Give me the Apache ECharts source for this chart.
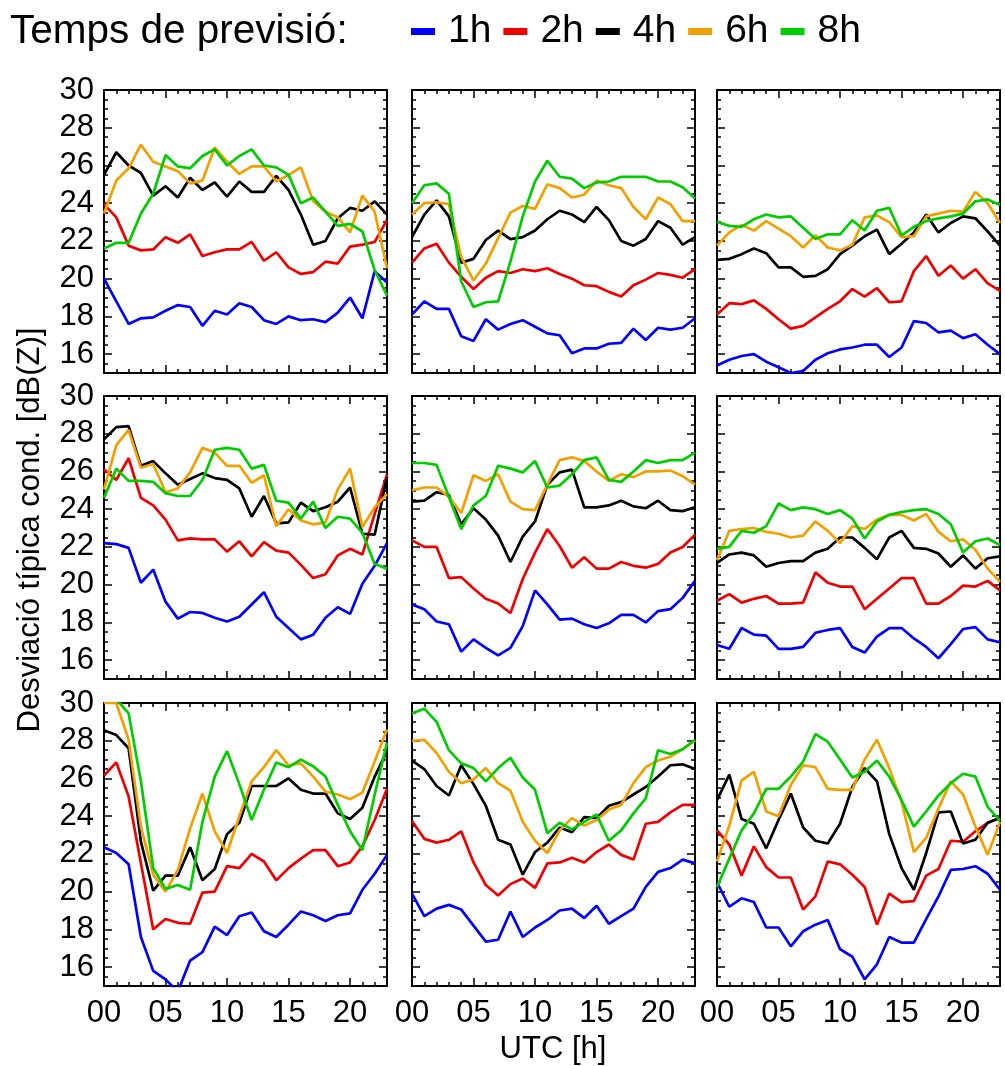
<!DOCTYPE html>
<html>
<head>
<meta charset="utf-8">
<script src="https://cdn.jsdelivr.net/npm/echarts@6/dist/echarts.min.js"></script>
<style>html,body{margin:0;padding:0;background:#fff}#c{width:1005px;height:1066px}</style>
</head>
<body>
<div id="c"></div>
<script>
// ---- categories / ticks ----
const hours = [0,1,2,3,4,5,6,7,8,9,10,11,12,13,14,15,16,17,18,19,20,21,22,23];
const xTickValues = [0,5,10,15,20];
const xTickLabels = ['00','05','10','15','20'];
const yTickValues = [16,18,20,22,24,26,28,30];
const yTickLabels = ['16','18','20','22','24','26','28','30'];
const leadTimes = ['1h','2h','4h','6h','8h'];
const leadColors = ['#0000ff','#ee0000','#000000','#f2a000','#00cc00'];
const legendTitle = 'Temps de previsió:';
const yTitle = 'Desviació típica cond. [dB(Z)]';
const xTitle = 'UTC [h]';

// ---- row 1 ----
const r1c1_1h = [20.0,18.8,17.6,17.9,17.95,18.3,18.6,18.5,17.5,18.3,18.1,18.7,18.5,17.8,17.6,18.0,17.8,17.85,17.7,18.2,19.0,17.9,20.4,19.8];
const r1c1_2h = [23.95,23.25,21.75,21.5,21.55,22.2,21.9,22.35,21.2,21.4,21.55,21.55,21.95,20.95,21.4,20.6,20.25,20.35,20.9,20.8,21.7,21.8,21.95,23.1];
const r1c1_4h = [25.5,26.7,26.0,25.6,24.4,24.9,24.3,25.35,24.7,25.1,24.35,25.15,24.6,24.6,25.45,24.7,23.4,21.8,22.0,23.2,23.75,23.6,24.1,23.4];
const r1c1_6h = [23.45,25.2,25.85,27.1,26.2,25.95,25.7,25.05,25.2,26.95,26.2,25.55,25.95,25.95,25.15,25.5,25.9,24.1,23.55,23.25,22.45,24.4,23.55,20.55];
const r1c1_8h = [21.6,21.9,21.9,23.45,24.5,26.55,25.95,25.85,26.5,26.85,26.0,26.5,26.85,26.0,25.9,25.5,24.0,24.3,23.55,22.8,22.9,22.5,20.45,19.1];

const r1c2_1h = [18.1,18.8,18.4,18.4,16.95,16.7,17.85,17.3,17.6,17.8,17.45,17.1,17.0,16.05,16.3,16.3,16.55,16.6,17.35,16.75,17.4,17.3,17.4,17.9];
const r1c2_2h = [20.85,21.6,21.85,20.85,20.1,19.45,20.05,20.4,20.3,20.5,20.4,20.55,20.25,20.0,19.65,19.6,19.3,19.05,19.65,19.95,20.3,20.2,20.05,20.5];
const r1c2_4h = [22.2,23.4,24.15,23.3,20.85,21.05,22.05,22.55,22.1,22.2,22.55,23.15,23.6,23.4,23.0,23.8,23.1,22.0,21.75,22.1,23.05,22.7,21.8,22.2];
const r1c2_6h = [23.4,24.0,24.05,23.95,21.15,19.9,20.8,22.15,23.5,23.85,23.7,25.0,24.8,24.3,24.45,25.2,24.95,24.8,23.8,23.15,24.3,23.95,23.05,23.05];
const r1c2_8h = [24.0,24.95,25.05,24.5,19.85,18.5,18.75,18.8,20.9,23.3,25.15,26.25,25.4,25.3,24.8,25.1,25.15,25.4,25.4,25.4,25.15,25.15,24.85,24.25];

const r1c3_1h = [15.4,15.7,15.9,16.0,15.6,15.3,15.0,15.1,15.7,16.05,16.25,16.35,16.5,16.5,15.85,16.35,17.75,17.65,17.15,17.25,16.85,17.05,16.5,16.0];
const r1c3_2h = [18.1,18.7,18.65,18.85,18.4,17.85,17.35,17.5,17.95,18.4,18.8,19.45,19.05,19.5,18.75,18.8,20.4,21.2,20.15,20.7,20.0,20.5,19.75,19.35];
const r1c3_4h = [21.0,21.05,21.3,21.6,21.35,20.6,20.6,20.1,20.15,20.5,21.3,21.75,22.25,22.6,21.3,21.85,22.45,23.4,22.45,22.95,23.3,23.2,22.5,21.75];
const r1c3_6h = [21.75,22.45,22.85,22.55,23.05,22.65,22.25,21.65,22.3,21.65,21.5,21.8,23.25,23.35,23.0,22.2,22.25,23.3,23.45,23.6,23.55,24.6,24.0,22.95];
const r1c3_8h = [23.0,22.8,22.75,23.15,23.4,23.25,23.3,22.7,22.1,22.35,22.35,23.1,22.55,23.6,23.75,22.3,22.75,23.05,23.2,23.3,23.45,24.1,24.2,23.9];

// ---- row 2 ----
const r2c1_1h = [22.2,22.15,21.95,20.1,20.8,19.1,18.2,18.55,18.5,18.25,18.05,18.3,18.95,19.6,18.3,17.7,17.1,17.35,18.25,18.8,18.45,20.05,21.0,22.2];
const r2c1_2h = [26.1,25.55,26.7,24.6,24.2,23.45,22.35,22.45,22.4,22.4,21.75,22.3,21.5,22.25,21.8,21.7,21.05,20.35,20.55,21.55,21.9,21.6,23.75,25.85];
const r2c1_4h = [27.7,28.35,28.4,26.3,26.55,25.9,25.3,25.6,25.9,25.65,25.55,25.1,23.6,24.7,23.25,23.3,24.35,23.9,24.1,24.4,25.15,22.7,22.65,25.7];
const r2c1_6h = [25.05,27.4,28.2,26.2,26.4,24.9,25.1,25.95,27.25,27.0,26.3,26.3,25.4,25.8,23.1,24.0,23.4,23.2,23.3,25.05,26.15,23.05,24.1,24.8];
const r2c1_8h = [24.6,26.15,25.5,25.5,25.45,24.85,24.7,24.7,25.55,27.15,27.25,27.15,26.15,26.35,24.45,24.35,23.5,24.4,23.0,23.6,23.5,22.75,21.1,20.85];

const r2c2_1h = [18.95,18.7,18.05,17.9,16.45,17.1,16.65,16.25,16.65,17.8,19.7,18.95,18.15,18.2,17.9,17.7,17.95,18.4,18.4,18.0,18.6,18.7,19.3,20.2];
const r2c2_2h = [22.35,22.0,22.0,20.35,20.4,19.8,19.25,19.0,18.5,20.3,21.7,22.95,22.05,20.9,21.45,20.85,20.85,21.2,21.0,20.9,21.1,21.7,22.0,22.65];
const r2c2_4h = [24.4,24.45,24.9,24.75,23.2,24.05,23.45,22.6,21.2,22.55,23.35,25.3,25.95,26.1,24.1,24.1,24.2,24.45,24.15,24.05,24.45,23.95,23.9,24.1];
const r2c2_6h = [25.0,25.15,25.15,24.65,23.8,25.8,25.5,25.85,24.4,24.0,23.95,25.3,26.6,26.75,26.55,26.0,25.5,25.85,25.7,26.0,26.0,26.05,25.75,25.3];
const r2c2_8h = [26.45,26.45,26.35,24.65,22.95,24.2,24.7,26.3,26.15,25.95,26.55,25.15,25.25,25.85,26.6,26.75,25.55,25.45,26.0,26.6,26.45,26.6,26.6,27.0];

const r2c3_1h = [16.8,16.6,17.7,17.35,17.3,16.6,16.6,16.7,17.45,17.6,17.7,16.7,16.4,17.25,17.7,17.7,17.15,16.7,16.1,16.85,17.65,17.75,17.1,16.95];
const r2c3_2h = [19.15,19.5,19.05,19.25,19.4,19.0,19.0,19.05,20.65,20.1,19.9,19.9,18.7,19.25,19.8,20.35,20.35,19.0,19.0,19.4,19.95,19.9,20.2,19.7];
const r2c3_4h = [21.15,21.6,21.7,21.55,20.95,21.15,21.25,21.25,21.7,21.9,22.5,22.5,21.95,21.35,22.5,22.85,21.95,21.9,21.65,20.95,21.55,20.85,21.4,21.5];
const r2c3_6h = [21.3,22.85,22.95,23.0,22.8,22.7,22.5,22.6,23.35,22.85,22.2,23.1,22.95,23.45,23.7,23.7,23.4,23.75,22.8,22.3,22.4,21.85,20.85,20.15];
const r2c3_8h = [21.9,22.0,22.85,22.75,23.1,24.3,23.95,24.1,24.0,23.75,23.95,23.5,22.45,23.35,23.7,23.85,23.95,24.0,23.75,23.2,21.7,22.3,22.45,22.1];

// ---- row 3 ----
const r3c1_1h = [22.35,22.05,21.45,17.6,15.8,15.35,14.7,16.35,16.8,18.15,17.7,18.7,18.9,17.9,17.6,18.25,18.95,18.75,18.45,18.75,18.85,20.1,20.95,21.95];
const r3c1_2h = [26.15,26.85,25.05,21.5,18.0,18.55,18.35,18.3,19.95,20.0,21.35,21.25,22.0,21.6,20.6,21.25,21.75,22.2,22.2,21.35,21.55,22.4,23.8,25.45];
const r3c1_4h = [28.55,28.3,27.6,22.65,20.05,20.85,20.85,22.35,20.6,21.2,23.05,23.65,25.6,25.6,25.6,26.0,25.4,25.2,25.2,24.15,23.85,24.45,26.1,27.45];
const r3c1_6h = [30.0,30.0,28.05,23.45,20.9,20.0,21.15,23.35,25.2,23.2,22.05,24.0,25.85,26.6,27.5,26.7,26.8,26.1,25.3,25.15,24.9,25.25,26.9,28.6];
const r3c1_8h = [30.2,30.2,29.45,25.85,21.25,20.15,20.35,20.1,23.7,26.1,27.45,25.7,23.8,25.4,26.85,26.6,27.0,26.65,26.1,24.6,23.2,22.2,25.15,27.9];

const r3c2_1h = [19.9,18.7,19.1,19.3,19.05,18.2,17.35,17.45,18.95,17.6,18.1,18.5,19.0,19.1,18.6,19.25,18.3,18.7,19.1,20.25,21.05,21.25,21.7,21.5];
const r3c2_2h = [23.75,22.8,22.6,22.75,23.2,21.55,20.35,19.8,20.4,20.7,20.2,21.5,21.55,21.8,21.55,22.1,22.5,21.95,21.7,23.6,23.7,24.2,24.6,24.6];
const r3c2_4h = [26.95,26.5,25.6,25.1,26.7,25.7,24.55,22.75,22.5,20.9,22.1,22.6,23.4,23.15,23.95,23.9,24.55,24.75,25.15,25.55,26.1,26.7,26.75,26.5];
const r3c2_6h = [28.0,28.05,27.35,26.35,25.75,25.95,26.55,25.75,25.35,23.7,22.7,22.05,23.25,23.9,23.5,23.8,24.35,24.6,25.75,26.6,26.95,27.15,27.55,28.0];
const r3c2_8h = [29.45,29.7,29.0,27.5,26.8,26.55,25.85,26.55,27.1,26.05,25.4,23.1,23.65,23.3,23.7,24.1,22.7,23.25,24.15,24.95,27.5,27.3,27.55,28.05];

const r3c3_1h = [20.5,19.2,19.65,19.45,18.1,18.1,17.1,17.9,18.25,18.5,16.95,16.55,15.35,16.15,17.6,17.3,17.3,18.55,19.75,21.15,21.2,21.35,20.95,20.1];
const r3c3_2h = [23.25,22.5,20.85,22.4,21.3,20.75,20.75,19.05,19.75,21.6,21.45,20.9,20.25,18.25,19.9,19.45,19.5,20.85,21.2,22.7,22.65,23.2,23.65,23.9];
const r3c3_4h = [24.85,26.2,23.85,23.6,22.3,23.8,25.2,23.4,22.7,22.55,23.6,25.55,26.55,25.85,23.05,21.25,20.1,22.05,24.2,24.25,22.55,22.75,23.65,23.9];
const r3c3_6h = [21.6,23.5,25.9,26.35,24.25,24.0,25.65,26.7,26.6,25.45,25.4,25.4,27.0,28.05,26.55,24.75,22.1,22.85,24.4,25.85,25.15,23.45,21.95,23.7];
const r3c3_8h = [20.25,21.75,23.25,24.15,25.45,25.45,26.1,26.9,28.35,27.95,27.0,26.05,26.35,26.95,26.1,24.85,23.45,24.25,25.1,25.75,26.25,26.1,24.5,23.75];

const panels = [
  [r1c1_1h, r1c1_2h, r1c1_4h, r1c1_6h, r1c1_8h],
  [r1c2_1h, r1c2_2h, r1c2_4h, r1c2_6h, r1c2_8h],
  [r1c3_1h, r1c3_2h, r1c3_4h, r1c3_6h, r1c3_8h],
  [r2c1_1h, r2c1_2h, r2c1_4h, r2c1_6h, r2c1_8h],
  [r2c2_1h, r2c2_2h, r2c2_4h, r2c2_6h, r2c2_8h],
  [r2c3_1h, r2c3_2h, r2c3_4h, r2c3_6h, r2c3_8h],
  [r3c1_1h, r3c1_2h, r3c1_4h, r3c1_6h, r3c1_8h],
  [r3c2_1h, r3c2_2h, r3c2_4h, r3c2_6h, r3c2_8h],
  [r3c3_1h, r3c3_2h, r3c3_4h, r3c3_6h, r3c3_8h]
];

// ---- layout ----
const FONT = '"Liberation Sans", Arial, Helvetica, sans-serif';
const panelLefts = [104, 412, 717];
const panelTops = [90, 396, 703];
const PW = 283, PH = 283;
const Y_MIN = 15, Y_MAX = 30, X_MIN = 0, X_MAX = 23;
const yMinorTicks = [];
for (let v = Y_MIN; v <= Y_MAX + 1e-9; v += 0.5) yMinorTicks.push(v);

const grid = [], xAxis = [], yAxis = [], series = [];
const lineOn = {show: true, onZero: false, lineStyle: {color: '#000', width: 2}};
const lineOff = {show: false, onZero: false};
const tickStyle = {color: '#000', width: 1.5};

panels.forEach((set, p) => {
  const row = Math.floor(p / 3), col = p % 3;
  grid.push({left: panelLefts[col], top: panelTops[row], width: PW, height: PH});
  const xc = {type: 'value', gridIndex: p, min: X_MIN, max: X_MAX, splitLine: {show: false}};
  const yc = {type: 'value', gridIndex: p, min: Y_MIN, max: Y_MAX, splitLine: {show: false}};
  const xi = xAxis.length;
  ['bottom', 'top'].forEach(pos => {
    xAxis.push(Object.assign({}, xc, {
      position: pos, axisLine: lineOn,
      axisTick: {show: true, inside: true, length: 8, customValues: xTickValues, lineStyle: tickStyle},
      axisLabel: {show: pos === 'bottom' && row === 2, customValues: xTickValues,
        formatter: v => xTickLabels[xTickValues.indexOf(v)],
        fontSize: 31, fontFamily: FONT, color: '#000', margin: 12}
    }));
    xAxis.push(Object.assign({}, xc, {
      position: pos, axisLine: lineOff,
      axisTick: {show: true, inside: true, length: 4, customValues: hours, lineStyle: tickStyle},
      axisLabel: {show: false}
    }));
  });
  const yi = yAxis.length;
  ['left', 'right'].forEach(pos => {
    yAxis.push(Object.assign({}, yc, {
      position: pos, axisLine: lineOn,
      axisTick: {show: true, inside: true, length: 8, customValues: yTickValues, lineStyle: tickStyle},
      axisLabel: {show: pos === 'left' && col === 0, customValues: yTickValues,
        formatter: v => yTickLabels[yTickValues.indexOf(v)],
        fontSize: 31, fontFamily: FONT, color: '#000', margin: 10}
    }));
    yAxis.push(Object.assign({}, yc, {
      position: pos, axisLine: lineOff,
      axisTick: {show: true, inside: true, length: 4, customValues: yMinorTicks, lineStyle: tickStyle},
      axisLabel: {show: false}
    }));
  });
  set.forEach((arr, k) => {
    series.push({
      type: 'line', name: leadTimes[k], xAxisIndex: xi, yAxisIndex: yi,
      data: hours.map((h, i) => [h, arr[i]]),
      symbol: 'none', showSymbol: false, clip: true, animation: false,
      lineStyle: {color: leadColors[k], width: 2.7},
      itemStyle: {color: leadColors[k]}, z: 3
    });
  });
});

const option = {
  backgroundColor: '#fff',
  animation: false,
  title: {text: legendTitle, left: 10, top: 11, padding: 0,
    textStyle: {fontSize: 40.5, fontWeight: 'normal', fontFamily: FONT, color: '#000'}},
  legend: {data: leadTimes, left: 411, top: 12, padding: 0, icon: 'rect',
    itemWidth: 24, itemHeight: 7, itemGap: 12, selectedMode: false,
    textStyle: {fontSize: 39, fontFamily: FONT, color: '#000', padding: [0, 0, 0, 8]}},
  grid, xAxis, yAxis, series,
  graphic: [
    {type: 'text', x: 30, y: 530, rotation: Math.PI / 2,
      style: {text: yTitle, fontSize: 31, fontFamily: FONT, fill: '#000',
        align: 'center', verticalAlign: 'middle', textAlign: 'center', textVerticalAlign: 'middle'}},
    {type: 'text', x: 553, y: 1049,
      style: {text: xTitle, fontSize: 31, fontFamily: FONT, fill: '#000',
        align: 'center', verticalAlign: 'middle', textAlign: 'center', textVerticalAlign: 'middle'}}
  ]
};
const chart = echarts.init(document.getElementById('c'));
chart.setOption(option);
</script>
</body>
</html>
